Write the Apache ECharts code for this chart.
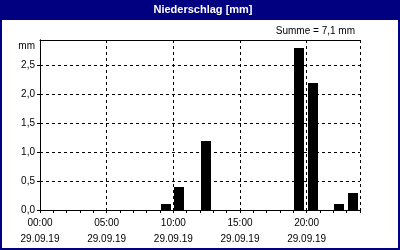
<!DOCTYPE html>
<html>
<head>
<meta charset="utf-8">
<style>html,body{margin:0;padding:0;background:#fff}#c{width:400px;height:250px}</style>
<script src="https://cdn.jsdelivr.net/npm/echarts@6/dist/echarts.min.js"></script>
</head>
<body>
<div id="c"></div>
<script>
// Data
const hours = [9, 10, 12, 19, 20, 22, 23];
const values = [0.1, 0.4, 1.2, 2.8, 2.2, 0.1, 0.3];
const dateLabel = '29.09.19';
const xTickHours = [0, 5, 10, 15, 20];
const yTicks = [0, 0.5, 1.0, 1.5, 2.0, 2.5];
const titleText = 'Niederschlag [mm]';
const unitText = 'mm';

const total = values.reduce((a, b) => a + b, 0);
const FONT = 'Liberation Sans';
const NAVY = '#000080';

const chart = echarts.init(document.getElementById('c'), null, {renderer: 'canvas'});
chart.setOption({
  backgroundColor: '#ffffff',
  animation: false,
  title: [
    {text: titleText, left: 203, textAlign: 'center', top: 3, padding: 0,
     textStyle: {color: '#fff', fontFamily: FONT, fontWeight: 'bold', fontSize: 11, lineHeight: 13}},
    {text: 'Summe = ' + total.toFixed(1).replace('.', ',') + ' mm', right: 45, top: 25, padding: 0,
     textStyle: {color: '#000', fontFamily: FONT, fontWeight: 'normal', fontSize: 10, lineHeight: 12}}
  ],
  graphic: [
    {type: 'rect', shape: {x: 0, y: 0, width: 400, height: 20}, style: {fill: NAVY}, z: -1},
    {type: 'rect', shape: {x: 1, y: 1, width: 398, height: 248}, style: {fill: 'none', stroke: NAVY, lineWidth: 2}, z: -1}
  ],
  grid: {left: 40, top: 40, width: 320, height: 170, show: false},
  xAxis: [
    {type: 'value', min: 0, max: 24, interval: 1,
     axisLine: {show: true, lineStyle: {color: '#000', width: 1}},
     axisTick: {show: true, length: 3, lineStyle: {color: '#000'}},
     axisLabel: {show: false}, splitLine: {show: false}},
    {type: 'value', min: 0, max: 24, interval: 5, position: 'bottom',
     axisLine: {show: false}, axisTick: {show: false},
     axisLabel: {show: true, color: '#000', fontFamily: FONT, fontSize: 10, lineHeight: 16, margin: 5,
       showMaxLabel: false,
       formatter: v => xTickHours.indexOf(v) >= 0 ? (String(v).padStart(2, '0') + ':00\n' + dateLabel) : ''},
     splitLine: {show: true, lineStyle: {color: '#000', type: [3, 3], width: 1}}},
    {type: 'value', min: 0, max: 24, position: 'top',
     axisLine: {show: true, lineStyle: {color: '#000', width: 1}},
     axisTick: {show: false}, axisLabel: {show: false}, splitLine: {show: false}}
  ],
  yAxis: [
    {type: 'value', min: 0, max: 2.94, interval: 0.5,
     name: unitText, nameLocation: 'end', nameGap: -6,
     nameTextStyle: {color: '#000', fontFamily: FONT, fontSize: 10, align: 'right', verticalAlign: 'middle', padding: [0, 5, 0, 0]},
     axisLine: {show: true, lineStyle: {color: '#000'}},
     axisTick: {show: true, length: 3, lineStyle: {color: '#000'}},
     axisLabel: {color: '#000', fontFamily: FONT, fontSize: 10, margin: 5, padding: [3, 0, 0, 0], showMaxLabel: false,
       formatter: v => yTicks.some(t => Math.abs(t - v) < 1e-6) ? v.toFixed(1).replace('.', ',') : ''},
     splitLine: {show: true, lineStyle: {color: '#000', type: [3, 3], width: 1}}},
    {type: 'value', min: 0, max: 2.94, position: 'right',
     axisLine: {show: true, lineStyle: {color: '#000'}},
     axisTick: {show: false}, axisLabel: {show: false}, splitLine: {show: false}}
  ],
  series: [{
    type: 'custom',
    xAxisIndex: 0,
    yAxisIndex: 0,
    data: hours.map((h, i) => [h, values[i]]),
    renderItem: function (params, api) {
      const base = api.coord([api.value(0), 0]);
      const top = api.coord([api.value(0), api.value(1)]);
      const x = Math.round(base[0] + 1);
      const yTop = Math.round(top[1]);
      const yBot = Math.round(base[1]);
      return {type: 'rect', shape: {x: x, y: yTop, width: 10, height: yBot - yTop}, style: {fill: '#000'}};
    }
  }]
});
</script>
</body>
</html>
